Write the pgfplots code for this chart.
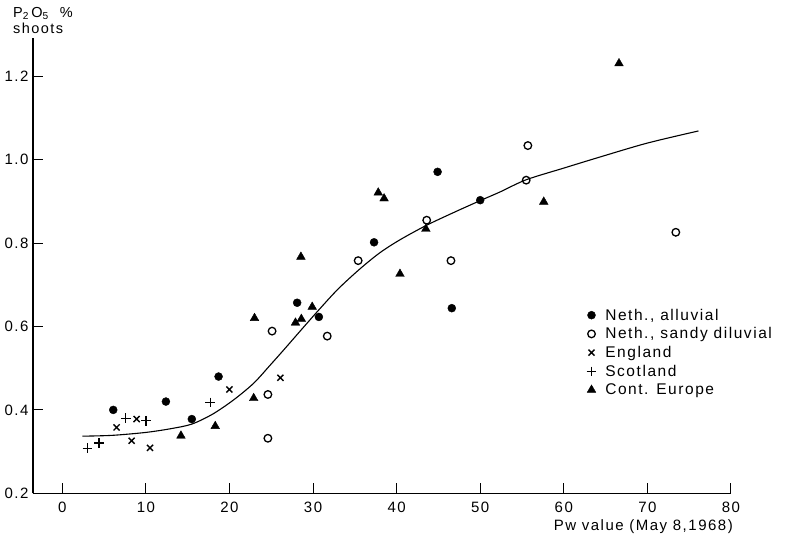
\documentclass[border=0pt]{standalone}
\usepackage{fontspec}
\setmainfont{Liberation Sans}[LetterSpace=10]
\usepackage{pgfplots}
\pgfplotsset{compat=1.18}
\begin{document}
\begin{tikzpicture}
\path[use as bounding box] (-33pt,-46.7pt) rectangle (763pt,493.3pt);
\begin{axis}[
  at={(0pt,0pt)}, anchor=south west,
  scale only axis, width=698pt, height=455.3pt,
  xmin=-3.5, xmax=80, ymin=0.2, ymax=1.292,
  axis lines=left,
  axis line style={-, line width=1.2pt},
  xtick={0,10,20,30,40,50,60,70,80},
  ytick={0.2,0.4,0.6,0.8,1.0,1.2},
  yticklabels={0.2,0.4,0.6,0.8,1.0,1.2},
  major tick length=10pt,
  tick style={line width=1pt, black},
  tick align=inside,
  /pgf/number format/assume math mode=true,
  tick label style={font=\fontsize{15}{18}\selectfont},
  xticklabel style={yshift=-5.5pt},
  yticklabel style={xshift=-1pt},
  clip=false,
  legend cell align=left,
  legend style={at={(0.793,0.41)}, anchor=north west, draw=none, fill=none,
    font=\fontsize{15.5}{17}\selectfont, row sep=2pt, inner sep=0pt},
]
\addplot[black, line width=1.1pt, smooth, forget plot] coordinates {
(2.4,0.337)(6,0.339)(10,0.346)(13,0.355)(15.5,0.366)(18,0.390)(20.5,0.424)
(22.9,0.464)(24.9,0.508)(26.5,0.544)(28.5,0.590)(30.7,0.640)(33,0.690)
(35.6,0.738)(38,0.777)(40.4,0.808)(43.6,0.843)(47,0.875)(50,0.902)
(52.4,0.923)(55.5,0.952)(60,0.980)(64.4,1.007)(70,1.040)(76.1,1.069)};
\addplot[only marks, mark=*, mark size=4pt, black] coordinates {
(6.1,0.400)(12.4,0.420)(15.5,0.378)(18.7,0.480)(28.1,0.657)(30.7,0.623)
(37.3,0.802)(44.9,0.971)(46.6,0.644)(50.0,0.903)};
\addlegendentry{\hspace*{7pt}Neth., alluvial}
\addplot[only marks, mark=o, mark size=3.8pt, black, mark options={line width=1.3pt, fill=white}] coordinates {
(25.1,0.589)(31.7,0.577)(24.6,0.437)(24.6,0.332)(35.4,0.758)(43.6,0.855)
(46.5,0.758)(55.7,1.034)(55.5,0.951)(73.4,0.826)};
\addlegendentry{\hspace*{7pt}Neth., sandy diluvial}
\addplot[only marks, mark=x, mark size=4.3pt, black, mark options={line width=1.4pt}] coordinates {
(6.5,0.358)(8.9,0.378)(8.3,0.326)(10.5,0.309)(20.0,0.449)(26.1,0.477)};
\addlegendentry{\hspace*{7pt}England}
\addplot[only marks, mark=+, mark size=4.8pt, black, mark options={line width=1.4pt}] coordinates {
(3.0,0.308)(4.4,0.321)(7.6,0.380)(10.0,0.374)(17.7,0.418)};
\addlegendentry{\hspace*{7pt}Scotland}
\addplot[only marks, mark=triangle*, mark size=5pt, black] coordinates {
(14.2,0.338)(18.3,0.361)(22.9,0.428)(23.0,0.620)(27.9,0.609)(28.6,0.618)
(29.9,0.647)(28.55,0.767)(37.8,0.921)(38.5,0.907)(40.4,0.726)(43.5,0.834)
(57.6,0.899)(66.6,1.231)};
\addlegendentry{\hspace*{7pt}Cont. Europe}
\end{axis}
\node[anchor=north west, align=left, inner sep=0pt, font=\fontsize{14.5}{15.5}\selectfont] at (-20pt,486pt) {P\textsubscript{2}\,O\textsubscript{5}\ \ \%\\shoots};
\node[anchor=east, inner sep=0pt, font=\fontsize{15}{18}\selectfont] at (700pt,-33pt) {Pw value (May 8,1968)};
\end{tikzpicture}
\end{document}
